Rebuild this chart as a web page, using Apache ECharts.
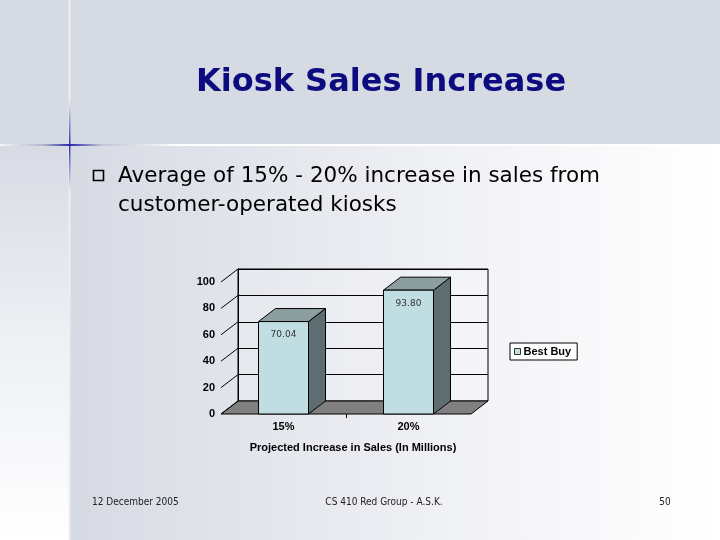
<!DOCTYPE html>
<html><head><meta charset="utf-8">
<script src="https://cdn.jsdelivr.net/npm/echarts@6/dist/echarts.min.js"></script>
<style>html,body{margin:0;padding:0;background:#fff;}#c{width:720px;height:540px;}</style>
</head><body><div id="c"></div>
<script>
// ---- data ----
const categories = ['15%', '20%'];
const bestBuy = [70.04, 93.80];
const seriesName = 'Best Buy';
const yMin = 0, yMax = 100, yStep = 20;
const titleText = 'Kiosk Sales Increase';
const bulletLines = ['Average of 15% - 20% increase in sales from', 'customer-operated kiosks'];
const xAxisTitle = 'Projected Increase in Sales (In Millions)';
const footerLeft = '12 December 2005';
const footerCenter = 'CS 410 Red Group - A.S.K.';
const footerRight = '50';

// ---- layout / style ----
const G = {left: 221, top: 282, width: 250, height: 132};
const D = {dx: 17, dy: -13};
const C = {front: '#c0dde2', side: '#5e6d71', top: '#8d9ea1', floor: '#808080'};

const chart = echarts.init(document.getElementById('c'));

function bgGraphics() {
  return [
    {type: 'rect', z: -20, shape: {x: 0, y: 0, width: 720, height: 540}, style: {fill: '#d6dae3'}},
    {type: 'rect', z: -19, shape: {x: 70, y: 146, width: 650, height: 394},
      style: {fill: new echarts.graphic.LinearGradient(0, 0, 1, 0, [
        {offset: 0, color: '#d6dae3'}, {offset: 0.6, color: '#f1f2f6'}, {offset: 1, color: '#ffffff'}])}},
    {type: 'rect', z: -19, shape: {x: 0, y: 146, width: 69, height: 394},
      style: {fill: new echarts.graphic.LinearGradient(0, 0, 0, 1, [
        {offset: 0, color: '#d8dbe4'}, {offset: 0.5, color: '#eef0f4'}, {offset: 1, color: '#ffffff'}])}},
    {type: 'rect', z: -18, shape: {x: 68.5, y: 0, width: 2, height: 540}, style: {fill: '#eceef3'}},
    {type: 'rect', z: -18, shape: {x: 0, y: 144, width: 720, height: 2},
      style: {fill: new echarts.graphic.LinearGradient(0, 0, 1, 0, [
        {offset: 0, color: '#f4f5f8'}, {offset: 0.06, color: '#b4b8cc'}, {offset: 0.097, color: '#2b2ba8'},
        {offset: 0.14, color: '#c0c4d4'}, {offset: 0.25, color: '#ffffff'}, {offset: 1, color: '#ffffff'}])}},
    {type: 'rect', z: -17, shape: {x: 69, y: 100, width: 1.5, height: 90},
      style: {fill: new echarts.graphic.LinearGradient(0, 0, 0, 1, [
        {offset: 0, color: 'rgba(43,43,168,0)'}, {offset: 0.5, color: '#2b2ba8'}, {offset: 1, color: 'rgba(43,43,168,0)'}])}},
    {type: 'text', z: 5, style: {text: titleText, x: 381, y: 83, align: 'center', verticalAlign: 'middle',
      font: 'bold 32px "DejaVu Sans"', fill: '#0c0c80'}},
    {type: 'rect', z: 5, shape: {x: 93.5, y: 170.5, width: 10, height: 10}, style: {fill: 'none', stroke: '#000', lineWidth: 1.6}},
    {type: 'text', z: 5, style: {text: bulletLines[0], x: 118, y: 176, align: 'left', verticalAlign: 'middle',
      font: '21.5px "DejaVu Sans"', fill: '#000'}},
    {type: 'text', z: 5, style: {text: bulletLines[1], x: 118, y: 205, align: 'left', verticalAlign: 'middle',
      font: '21.5px "DejaVu Sans"', fill: '#000'}},
    {type: 'text', z: 5, style: {text: footerLeft, x: 92, y: 502, align: 'left', verticalAlign: 'middle',
      font: '10px "DejaVu Sans Condensed"', fill: '#222'}},
    {type: 'text', z: 5, style: {text: footerCenter, x: 384, y: 502, align: 'center', verticalAlign: 'middle',
      font: '10px "DejaVu Sans Condensed"', fill: '#222'}},
    {type: 'text', z: 5, style: {text: footerRight, x: 665, y: 502, align: 'center', verticalAlign: 'middle',
      font: '10px "DejaVu Sans Condensed"', fill: '#222'}}
  ];
}

function renderBar(params, api) {
  const i = api.value(0), v = api.value(1);
  const top = api.coord([i, v]);
  const base = api.coord([i, 0]);
  const bw = api.size([1, 0])[0] * 0.4;
  const x0 = top[0] - bw / 2, x1 = top[0] + bw / 2, yT = top[1], yB = base[1];
  const dx = D.dx, dy = D.dy;
  return {type: 'group', children: [
    {type: 'polygon', shape: {points: [[x1, yB], [x1 + dx, yB + dy], [x1 + dx, yT + dy], [x1, yT]]},
      style: {fill: C.side, stroke: '#000', lineWidth: 1}},
    {type: 'polygon', shape: {points: [[x0, yT], [x0 + dx, yT + dy], [x1 + dx, yT + dy], [x1, yT]]},
      style: {fill: C.top, stroke: '#000', lineWidth: 1}},
    {type: 'rect', shape: {x: x0, y: yT, width: bw, height: yB - yT},
      style: {fill: C.front, stroke: '#000', lineWidth: 1}},
    {type: 'text', style: {text: v.toFixed(2), x: top[0], y: yT + 13, align: 'center', verticalAlign: 'middle',
      font: '9px "DejaVu Sans"', fill: '#333'}}
  ]};
}

const boldFont = {fontFamily: '"Liberation Sans"', fontWeight: 'bold', fontSize: 11, color: '#000'};

chart.setOption({
  animation: false,
  graphic: bgGraphics(),
  legend: {
    data: [{name: seriesName, icon: 'rect'}],
    left: 510, top: 343, orient: 'vertical',
    backgroundColor: '#ffffff', borderColor: '#000', borderWidth: 1, borderRadius: 0,
    padding: [3, 6, 3, 4], itemWidth: 6, itemHeight: 6, itemGap: 0,
    itemStyle: {borderColor: '#333', borderWidth: 1},
    textStyle: {fontFamily: '"Liberation Sans"', fontWeight: 'bold', fontSize: 11, color: '#000', padding: [0, 0, 0, -2]}
  },
  grid: [
    {left: G.left, top: G.top, width: G.width, height: G.height, containLabel: false},
    {left: G.left + D.dx, top: G.top + D.dy, width: G.width, height: G.height,
      show: true, borderColor: '#000', borderWidth: 1, backgroundColor: 'rgba(255,255,255,0.15)'}
  ],
  xAxis: [
    {type: 'category', gridIndex: 0, data: categories,
      axisLine: {show: false},
      axisTick: {show: false},
      axisLabel: Object.assign({margin: 7}, boldFont),
      name: xAxisTitle, nameLocation: 'middle', nameGap: 28,
      nameTextStyle: Object.assign({padding: [0, 0, 0, 14]}, boldFont)},
    {type: 'category', gridIndex: 1, data: categories, show: false}
  ],
  yAxis: [
    {type: 'value', gridIndex: 0, min: yMin, max: yMax, interval: yStep,
      axisLine: {show: false}, axisTick: {show: false}, splitLine: {show: false},
      axisLabel: Object.assign({margin: 6}, boldFont)},
    {type: 'value', gridIndex: 1, min: yMin, max: yMax, interval: yStep,
      axisLine: {show: true, lineStyle: {color: '#000'}}, axisTick: {show: false},
      axisLabel: {show: false},
      splitLine: {show: true, lineStyle: {color: '#000', width: 1}}}
  ],
  series: [{
    name: seriesName, type: 'custom', xAxisIndex: 0, yAxisIndex: 0, z: 5,
    itemStyle: {color: C.front},
    encode: {x: 0, y: 1},
    data: categories.map((c, i) => [i, bestBuy[i]]),
    renderItem: renderBar
  }]
});

// decorations derived from the axis scale: floor, diagonal tick connectors, inner category tick
const extra = [];
const y0 = chart.convertToPixel({yAxisIndex: 0}, yMin);
const xL = G.left, xR = G.left + G.width;
extra.push({type: 'polygon', z: 3, shape: {points: [[xL, y0], [xR, y0], [xR + D.dx, y0 + D.dy], [xL + D.dx, y0 + D.dy]]},
  style: {fill: C.floor, stroke: '#000', lineWidth: 1}});
for (let v = yMin; v <= yMax; v += yStep) {
  const y = chart.convertToPixel({yAxisIndex: 0}, v);
  extra.push({type: 'line', z: 3, shape: {x1: xL, y1: y, x2: xL + D.dx, y2: y + D.dy}, style: {stroke: '#000', lineWidth: 1}});
}
for (let i = 1; i < categories.length; i++) {
  const xa = chart.convertToPixel({xAxisIndex: 0}, i - 1);
  const xb = chart.convertToPixel({xAxisIndex: 0}, i);
  const xm = Math.round((xa + xb) / 2) + 0.5;
  extra.push({type: 'line', z: 3, shape: {x1: xm, y1: y0, x2: xm, y2: y0 + 4}, style: {stroke: '#000', lineWidth: 1}});
}
chart.setOption({graphic: bgGraphics().concat(extra)});
</script>
</body></html>
